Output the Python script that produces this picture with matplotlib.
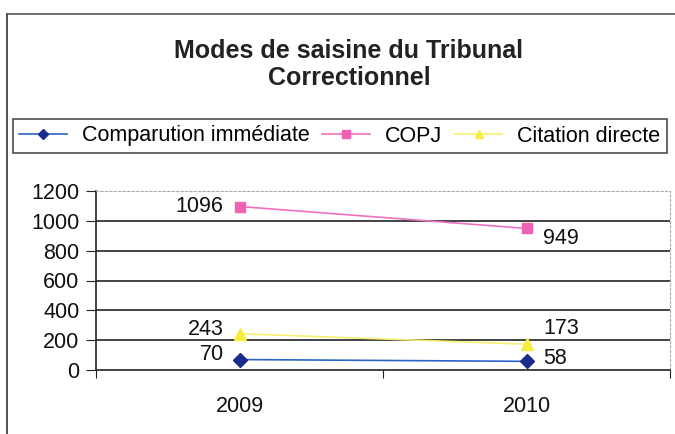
import matplotlib
matplotlib.use("Agg")
import matplotlib.pyplot as plt
from matplotlib.lines import Line2D

years = ["2009", "2010"]
series_names = ["Comparution immédiate", "COPJ", "Citation directe"]
comparution = [70, 58]
copj = [1096, 949]
citation = [243, 173]
yticks = [0, 200, 400, 600, 800, 1000, 1200]

plt.rcParams['font.family'] = ['Liberation Sans', 'DejaVu Sans']

W, H = 675, 434
fig = plt.figure(figsize=(W/100, H/100), dpi=100)
fig.patch.set_facecolor('white')

# outer frame (left and top edges visible)
fig.add_artist(Line2D([7/W, 7/W], [0, 1-14/H], color='#333333', lw=1.2, transform=fig.transFigure))
fig.add_artist(Line2D([7/W, 1], [1-14/H, 1-14/H], color='#555555', lw=1.2, transform=fig.transFigure))

fig.text(349/W, 1-51/H, "Modes de saisine du Tribunal", ha='center', va='center',
         fontsize=18, fontweight='bold', color='#222222')
fig.text(349/W, 1-78/H, "Correctionnel", ha='center', va='center',
         fontsize=18, fontweight='bold', color='#222222')

ax = fig.add_axes([96/W, 1-370/H, (670-96)/W, (370-191)/H])
x = [0.5, 1.5]
l1, = ax.plot(x, comparution, color='#2a64c8', lw=1.2, marker='D', ms=7,
              markerfacecolor='#1c2b8c', markeredgecolor='#1c2b8c', zorder=4)
l2, = ax.plot(x, copj, color='#f070c0', lw=1.2, marker='s', ms=7,
              markerfacecolor='#f060b0', markeredgecolor='#f060b0', zorder=4)
l3, = ax.plot(x, citation, color='#f8f070', lw=1.2, marker='^', ms=8,
              markerfacecolor='#f5ee40', markeredgecolor='#f5ee40', zorder=4)

ax.set_xlim(0, 2)
ax.set_ylim(0, 1200)
ax.set_yticks(yticks)
ax.set_yticklabels([str(v) for v in yticks], fontsize=15.5, color='#111111')
ax.set_xticks([0, 1, 2])
ax.set_xticklabels([])
ax.set_xticks(x, minor=True)
ax.set_xticklabels(years, minor=True, fontsize=15.5, color='#111111')
ax.tick_params(axis='x', which='minor', length=0, pad=19)
ax.tick_params(axis='x', which='major', length=6, direction='out', color='#222222')
ax.tick_params(axis='y', length=7, direction='out', color='#222222', pad=5)
for v in yticks[1:-1]:
    ax.axhline(v, color='#222222', lw=1.2, zorder=1)

for s in ['top', 'right']:
    ax.spines[s].set_color('#aaaaaa')
    ax.spines[s].set_linestyle((0, (2, 2)))
    ax.spines[s].set_linewidth(0.8)
ax.spines['left'].set_color('#222222')
ax.spines['bottom'].set_color('#222222')
ax.spines['left'].set_linewidth(1.2)
ax.spines['bottom'].set_linewidth(1.2)

lab = dict(fontsize=15.5, color='#111111')
ax.annotate(str(copj[0]), (x[0], copj[0]), xytext=(-12, 0), textcoords='offset points', ha='right', va='center', **lab)
ax.annotate(str(copj[1]), (x[1], copj[1]), xytext=(12, -7), textcoords='offset points', ha='left', va='center', **lab)
ax.annotate(str(citation[0]), (x[0], citation[0]), xytext=(-11, 3), textcoords='offset points', ha='right', va='center', **lab)
ax.annotate(str(citation[1]), (x[1], citation[1]), xytext=(12, 11), textcoords='offset points', ha='left', va='center', **lab)
ax.annotate(str(comparution[0]), (x[0], comparution[0]), xytext=(-11, 4), textcoords='offset points', ha='right', va='center', **lab)
ax.annotate(str(comparution[1]), (x[1], comparution[1]), xytext=(12, 2), textcoords='offset points', ha='left', va='center', **lab)

leg = fig.legend([l1, l2, l3], series_names, loc='center', bbox_to_anchor=(340/W, 1-136/H),
                 ncol=3, fontsize=15.5, frameon=True, fancybox=False, edgecolor='#222222',
                 handlelength=2.2, columnspacing=0.6, handletextpad=0.7, borderpad=0.3,
                 markerscale=0.75)
leg.get_frame().set_linewidth(1.2)

fig.savefig("out.png", dpi=100)
